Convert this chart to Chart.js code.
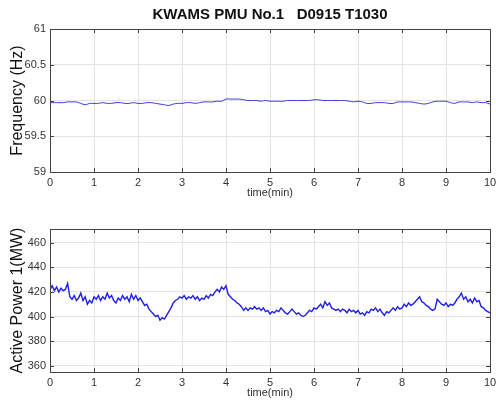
<!DOCTYPE html>
<html lang="en">
<head>
    <meta charset="UTF-8">
    <title>KWAMS PMU No.1 D0915 T1030</title>
    <script src="https://cdn.jsdelivr.net/npm/chart.js"></script>
    <style>
        body { margin: 0; background: #fff; }
        .plot { position: absolute; left: 0; width: 496px; }
        #top-plot { top: 0; height: 200px; }
        #bottom-plot { top: 200px; height: 207px; }
    </style>
</head>
<body>
    <div class="plot" id="top-plot"><canvas id="freqChart" width="496" height="200"></canvas></div>
    <div class="plot" id="bottom-plot"><canvas id="powerChart" width="496" height="207"></canvas></div>

    <script>
        // ---- data ----
        const timeTicks = [0, 1, 2, 3, 4, 5, 6, 7, 8, 9, 10];
        const freqTicks = [59, 59.5, 60, 60.5, 61];
        const powerTicks = [360, 380, 400, 420, 440, 460];

        // frequency, one sample every 0.1 min
        const freqStep = 0.1;
        const frequency = [
            59.97, 59.97, 59.97, 59.97, 59.98, 59.98, 59.98, 59.96, 59.94, 59.96,
            59.96, 59.96, 59.97, 59.96, 59.96, 59.97, 59.97, 59.96, 59.96, 59.97,
            59.96, 59.96, 59.97, 59.97, 59.96, 59.95, 59.94, 59.93, 59.95, 59.96,
            59.96, 59.97, 59.97, 59.96, 59.97, 59.98, 59.98, 59.98, 59.99, 59.99,
            60.02, 60.02, 60.02, 60.02, 60.01, 60.00, 60.00, 60.00, 59.99, 60.00,
            59.99, 59.99, 59.99, 59.99, 60.00, 60.00, 60.00, 60.00, 60.00, 60.00,
            60.01, 60.01, 60.00, 60.00, 60.00, 60.00, 60.00, 60.00, 59.99, 59.98,
            59.99, 59.98, 59.96, 59.96, 59.97, 59.97, 59.97, 59.96, 59.96, 59.98,
            59.98, 59.98, 59.98, 59.97, 59.96, 59.95, 59.96, 59.98, 59.99, 59.99,
            59.99, 59.97, 59.96, 59.98, 59.98, 59.98, 59.97, 59.98, 59.97, 59.97,
            59.95
        ];

        // active power, one sample every 0.05 min
        const powerStep = 0.05;
        const activePower = [
            422, 425, 421, 424, 420, 423, 421, 422, 427, 416,
            414, 417, 413, 415, 419, 413, 416, 410, 413, 411,
            416, 414, 417, 413, 416, 414, 419, 415, 417, 413,
            411, 415, 413, 417, 414, 416, 412, 418, 414, 417,
            413, 415, 412, 409, 410, 406, 404, 402, 400, 401,
            397, 399, 398, 401, 404, 407, 411, 413, 414, 416,
            415, 417, 414, 416, 415, 417, 414, 416, 413, 415,
            414, 417, 415, 418, 417, 420, 422, 420, 424, 422,
            425, 418, 416, 414, 413, 411, 410, 408, 405, 407,
            405, 407, 406, 408, 406, 407, 405, 407, 404, 405,
            402, 404, 403, 405, 404, 407, 405, 403, 402, 404,
            406, 404, 402, 403, 401, 400, 401, 403, 405, 404,
            407, 406, 408, 410, 407, 412, 409, 411, 407, 406,
            405, 406, 404, 406, 405, 403, 406, 404, 405, 403,
            405, 402, 403, 401, 404, 403, 406, 405, 407, 404,
            406, 403, 401, 404, 403, 405, 407, 405, 408, 406,
            407, 410, 408, 411, 409, 410, 412, 414, 416, 412,
            411, 409, 408, 406, 405, 406, 414, 412, 410, 409,
            411, 408, 410, 409, 411, 414, 416, 419, 414, 416,
            412, 414, 411, 415, 412, 413, 408, 407, 405, 404,
            403
        ];

        const toPoints = (values, step) => values.map((v, i) => ({ x: +(i * step).toFixed(2), y: v }));

        // box + inward tick marks, matlab style
        const boxTicks = {
            id: 'boxTicks',
            afterDraw(chart) {
                const { ctx, chartArea: a, scales } = chart;
                ctx.save();
                ctx.strokeStyle = '#444';
                ctx.lineWidth = 1;
                ctx.beginPath();
                scales.x.ticks.forEach(t => {
                    const px = Math.round(scales.x.getPixelForValue(t.value)) + 0.5;
                    ctx.moveTo(px, a.bottom); ctx.lineTo(px, a.bottom - 4);
                    ctx.moveTo(px, a.top); ctx.lineTo(px, a.top + 4);
                });
                scales.y.ticks.forEach(t => {
                    const py = Math.round(scales.y.getPixelForValue(t.value)) + 0.5;
                    ctx.moveTo(a.left, py); ctx.lineTo(a.left + 4, py);
                    ctx.moveTo(a.right, py); ctx.lineTo(a.right - 4, py);
                });
                ctx.stroke();
                ctx.strokeRect(Math.round(a.left) + 0.5, Math.round(a.top) + 0.5,
                    Math.round(a.right - a.left), Math.round(a.bottom - a.top));
                ctx.restore();
            }
        };

        const tickFont = { family: 'Arial, "Liberation Sans", sans-serif', size: 11 };

        function makeOptions(yMin, yMax, yTicks, yTitle, withTitle) {
            return {
                responsive: false,
                animation: false,
                devicePixelRatio: 1,
                layout: { padding: { left: 0, right: 6, top: withTitle ? 0 : 29, bottom: withTitle ? 0 : 7 } },
                plugins: {
                    legend: { display: false },
                    tooltip: { enabled: false },
                    title: {
                        display: withTitle,
                        text: 'KWAMS PMU No.1   D0915 T1030',
                        fullSize: false,
                        color: '#111',
                        font: { family: 'Arial, "Liberation Sans", sans-serif', size: 15, weight: 'bold' },
                        padding: { top: 6, bottom: 5 }
                    }
                },
                scales: {
                    x: {
                        type: 'linear',
                        min: 0,
                        max: 10,
                        afterBuildTicks: s => { s.ticks = timeTicks.map(v => ({ value: v })); },
                        afterFit: s => { s.height = 28; s.paddingRight = 0; s.paddingLeft = 0; },
                        grid: { color: '#e4e4e4', drawTicks: false },
                        border: { display: false },
                        ticks: { color: '#333', font: tickFont, padding: 4, maxRotation: 0, callback: v => String(v) },
                        title: { display: true, text: 'time(min)', color: '#333', font: tickFont, padding: 0 }
                    },
                    y: {
                        min: yMin,
                        max: yMax,
                        afterBuildTicks: s => { s.ticks = yTicks.map(v => ({ value: v })); },
                        afterFit: s => { s.width = 50; },
                        grid: { color: '#e4e4e4', drawTicks: false },
                        border: { display: false },
                        ticks: { color: '#333', font: tickFont, padding: 4, callback: v => String(v) },
                        title: {
                            display: true,
                            text: yTitle,
                            color: '#111',
                            font: { family: 'Arial, "Liberation Sans", sans-serif', size: 16 },
                            padding: { top: 8, bottom: 0 }
                        }
                    }
                }
            };
        }

        // Frequency
        new Chart(document.getElementById('freqChart'), {
            type: 'line',
            data: {
                datasets: [{
                    data: toPoints(frequency, freqStep),
                    borderColor: '#3a3ad8',
                    borderWidth: 1,
                    pointRadius: 0,
                    tension: 0.3
                }]
            },
            options: makeOptions(59, 61, freqTicks, 'Frequency (Hz)', true),
            plugins: [boxTicks]
        });

        // Active power
        new Chart(document.getElementById('powerChart'), {
            type: 'line',
            data: {
                datasets: [{
                    data: toPoints(activePower, powerStep),
                    borderColor: '#1f1fe6',
                    borderWidth: 1.4,
                    pointRadius: 0,
                    tension: 0
                }]
            },
            options: makeOptions(355, 471, powerTicks, 'Active Power 1(MW)', false),
            plugins: [boxTicks]
        });
    </script>
</body>
</html>
